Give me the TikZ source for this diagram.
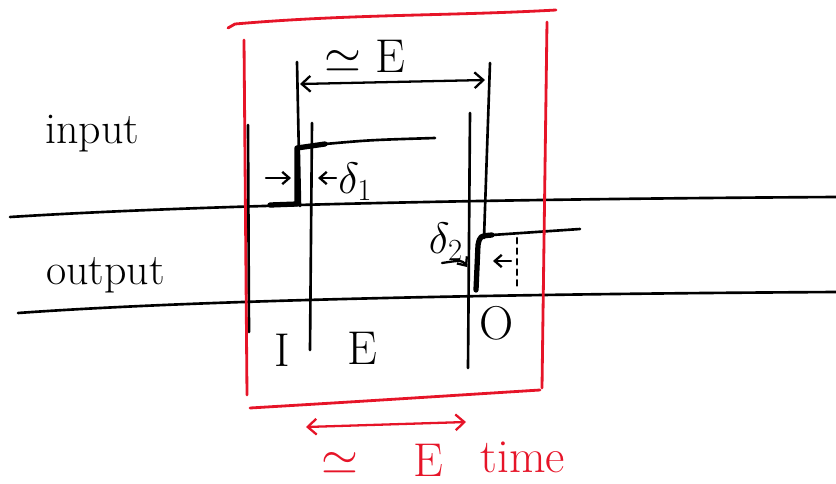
\RequirePackage{fix-cm}
\documentclass[tikz,border=0pt]{standalone}
\usetikzlibrary{arrows.meta}
\definecolor{pen}{RGB}{230,20,40}
\begin{document}
\begin{tikzpicture}[x=0.02cm,y=-0.02cm,line cap=round,line join=round,
 ink/.style={line width=1.5pt},
 heavy/.style={line width=3pt},
 dim/.style={line width=1.3pt,{Straight Barb[length=5pt,width=9pt]}-{Straight Barb[length=5pt,width=9pt]}},
 tip/.style={line width=1.3pt,-{Straight Barb[length=4pt,width=7pt]}},
 lbl/.style={font=\fontsize{25}{28}\selectfont,inner sep=0pt},
 big/.style={font=\fontsize{27}{30}\selectfont,inner sep=0pt},
 redbox/.style={pen,line width=1.6pt}]
\useasboundingbox (0,0) rectangle (836,484);
% signal lines
\draw[ink] (10,217) .. controls (200,205) and (500,199) .. (836,197);
\draw[ink] (18,313) .. controls (200,300) and (500,294) .. (836,292);
\node[lbl,anchor=base west] (in) at (45,143) {input};
\node[lbl,anchor=base west] (out) at (46,284) {output};
% phase boundaries
\draw[ink] (248,125) -- (249,332);
\draw[ink] (297,62) -- (300,206);
\draw[ink] (312,123) -- (310,350);
\draw[ink] (470,113) -- (468,368);
\draw[ink] (490,63) -- (484,238);
% steps
\draw[heavy] (270,205) -- (297,204) -- (297,148) -- (325,144);
\draw[ink] (325,144) .. controls (370,140) .. (435,138);
\draw[heavy] (476,290) -- (478,245) .. controls (480,236) .. (492,235);
\draw[ink] (492,235) -- (580,229);
% top span
\coordinate (e1) at (300,84); \coordinate (e2) at (485,80);
\draw[dim] (e1) -- (e2);
\node[big] (eps) at (365,56) {$\simeq$ E};
% delays
\coordinate (d1a) at (266,178); \coordinate (d1b) at (291,178);
\coordinate (d1c) at (336,178); \coordinate (d1d) at (318,178);
\draw[tip] (d1a) -- (d1b); \draw[tip] (d1c) -- (d1d);
\node[lbl,anchor=west] (del1) at (338,182) {$\delta_1$};
\node[lbl] (del2) at (446,242) {$\delta_2$};
\coordinate (d2a) at (442,263); \coordinate (d2b) at (467,267);
\draw[tip] (d2a) .. controls (462,260) .. (d2b);
\coordinate (d2c) at (511,261); \coordinate (d2d) at (493,261);
\draw[tip] (d2c) -- (d2d);
\draw[ink,dashed] (517,238) -- (517,290);
% phases
\node[big] (pi) at (282,350) {I};
\node[big] (pe) at (362,348) {E};
\node[big] (po) at (497,323) {O};
% red frame
\draw[redbox] (228,28) -- (235,24) .. controls (350,14) and (450,16) .. (556,10);
\draw[redbox] (244,40) -- (247,395);
\draw[redbox] (547,22) -- (542,388);
\draw[redbox] (250,408) .. controls (350,402) .. (540,390);
\coordinate (r1) at (306,427); \coordinate (r2) at (466,422);
\draw[redbox,dim] (r1) -- (r2);
\node[big,pen] (rsim) at (340,463) {$\simeq$};
\node[big,pen] (re) at (428,460) {E};
\node[big,pen,anchor=base west] (rtime) at (480,472) {time};
\end{tikzpicture}
\end{document}
